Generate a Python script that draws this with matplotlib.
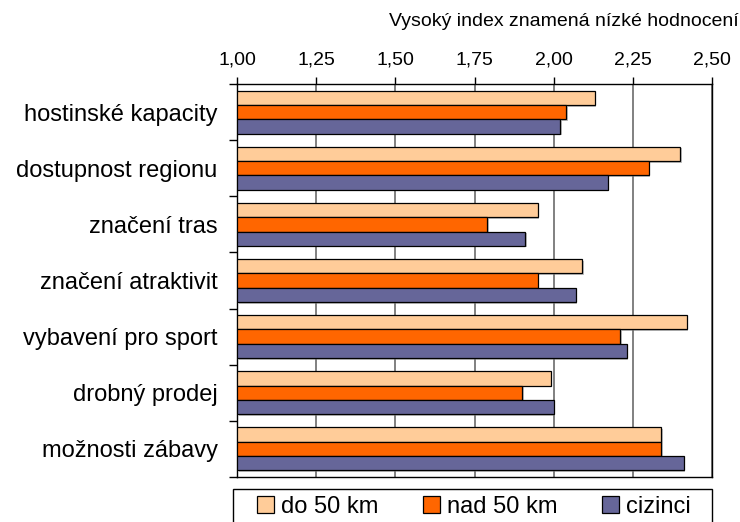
#horizontal bar chart of regional ratings (high index = low rating)
import matplotlib.pyplot as plt
import matplotlib.patheffects as pe
from matplotlib.patches import Rectangle
import numpy as np

categories = ['hostinské kapacity', 'dostupnost regionu', 'značení tras', 'značení atraktivit',
              'vybavení pro sport', 'drobný prodej', 'možnosti zábavy']
do_50 = [2.13, 2.40, 1.95, 2.09, 2.42, 1.99, 2.34]
nad_50 = [2.04, 2.30, 1.79, 1.95, 2.21, 1.90, 2.34]
cizinci = [2.02, 2.17, 1.91, 2.07, 2.23, 2.00, 2.41]
series_names = ['do 50 km', 'nad 50 km', 'cizinci']
colors = ['#FFCC99', '#FF6600', '#666699']
xticks = [1.00, 1.25, 1.50, 1.75, 2.00, 2.25, 2.50]

plt.rcParams['font.family'] = ['Liberation Sans', 'DejaVu Sans']

fig = plt.figure(figsize=[7.4, 5.22], dpi=100)
ax = fig.add_axes([237/740, 1-477/522, 475/740, 393/522])

y = np.arange(len(categories))
h = 0.255
shadow = [pe.SimplePatchShadow(offset=(1.2, -1.2), shadow_rgbFace='gray', alpha=0.5), pe.Normal()]

#bars start at 1.00 (left edge of axis)
for k, vals in enumerate([do_50, nad_50, cizinci]):
    left = 1.0
    widths = np.array(vals) - left
    bars = ax.barh(y + (k-1)*h, widths, left=left, height=h, color=colors[k],
                   edgecolor='black', linewidth=0.9, label=series_names[k], zorder=3)
    for b in bars:
        b.set_path_effects(shadow)

ax.set_xlim(1.0, 2.5)
ax.set_ylim(6.5, -0.5)

#grid
ax.set_xticks(xticks)
ax.set_xticklabels([f'{t:.2f}'.replace('.', ',') for t in xticks])
ax.xaxis.grid(True, color='#808080', linewidth=1.4, zorder=0)
ax.xaxis.tick_top()
ax.tick_params(axis='x', which='major', direction='out', length=5, width=1, pad=6, labelsize=14)

#category labels centered, boundary ticks outside
ax.set_yticks(y)
ax.set_yticklabels(categories)
ax.set_yticks(np.arange(-0.5, len(categories)), minor=True)
ax.tick_params(axis='y', which='major', length=0, pad=14, labelsize=17)
ax.tick_params(axis='y', which='minor', direction='out', length=6, width=1)

for s in ax.spines.values():
    s.set_color('black')
    s.set_linewidth(1)

fig.text(739/740, 1-22/522, 'Vysoký index znamená nízké hodnocení', ha='right', va='center', fontsize=14)

#legend: entries centered, own frame box (runs off the bottom edge)
leg = fig.legend(loc='center', bbox_to_anchor=(474/740, 1-507/522), ncol=3, fontsize=17,
                 frameon=False, handlelength=0.7, handleheight=0.7, handletextpad=0.3,
                 columnspacing=1.9, borderaxespad=0, borderpad=0)
for p in leg.get_patches():
    p.set_path_effects([])
fig.patches.append(Rectangle((233/740, 1-530/522), 479/740, 41/522, transform=fig.transFigure,
                             fill=False, edgecolor='black', linewidth=1))

plt.savefig('out.png', dpi=100)
